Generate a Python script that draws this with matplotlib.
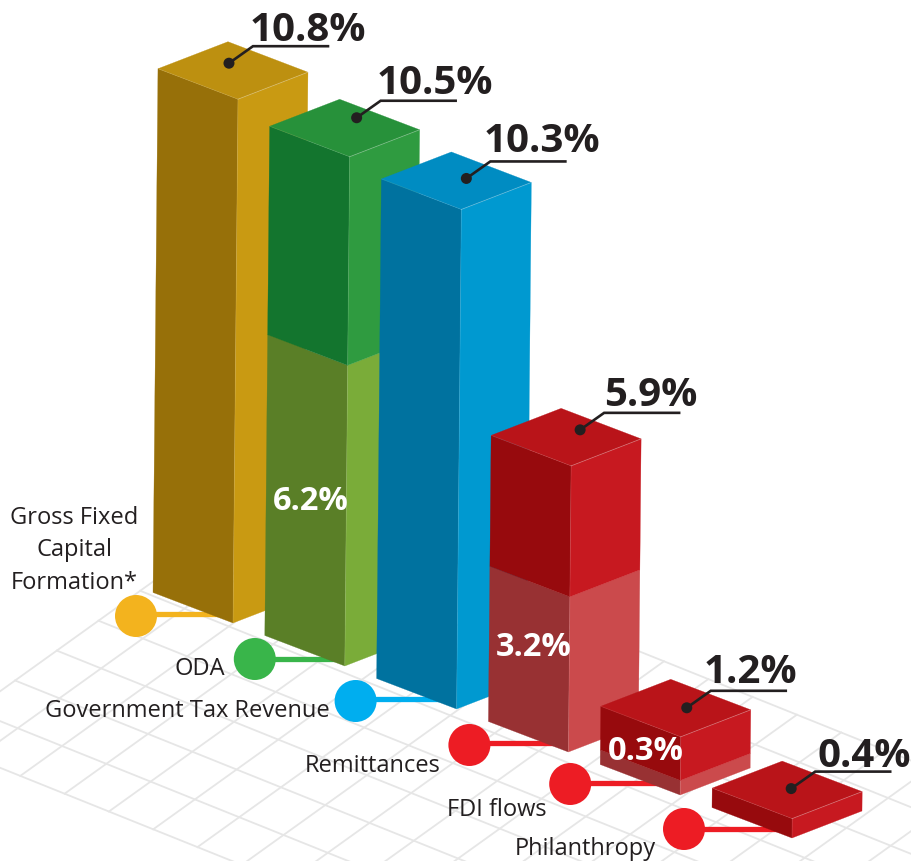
import matplotlib
matplotlib.use("Agg")
import matplotlib.pyplot as plt
from matplotlib.patches import Circle, Polygon

# data
categorias = ["Gross Fixed\nCapital\nFormation*", "ODA", "Government Tax Revenue",
              "Remittances", "FDI flows", "Philanthropy"]
valores = [10.8, 10.5, 10.3, 5.9, 1.2, 0.4]
valores_base = [0, 6.2, 0, 3.2, 0.3, 0]

# cores: esquerda, direita, topo, esquerda baixo, direita baixo, bolinha
cores = [
    ("#977009", "#C99A12", "#BD9010", None, None, "#F3B31E"),
    ("#13752E", "#2F9B40", "#27913A", "#5A7F27", "#7AAC39", "#39B54A"),
    ("#00729F", "#0099D0", "#008CC2", None, None, "#00AEEF"),
    ("#970A0D", "#C71920", "#B91419", "#983133", "#CB4A4C", "#ED1C24"),
    ("#970A0D", "#C71920", "#B91419", "#983133", "#CB4A4C", "#ED1C24"),
    ("#970A0D", "#C71920", "#B91419", None, None, "#ED1C24"),
]

# geometria em pixels
W, H = 911, 861
BASE_0 = (233, 623)
PASSO = (111.8, 43)
ESQ = (-80, -30.5)
DIR = (70, -27)
PX_POR_PONTO = 48.5
INCLINA = 0.0095

pontos_topo = [(-9, -36), (7, -39), (5, -31), (9, -36), (6, -29), (-1, -30)]
texto_offset = [(-3, -5), (-4, -7), (-7, -9), (0, -7), (-7, -8), (2, -5)]
bolinhas = [(-97, -7), (-90, -7), (-101, -8), (-99, -7), (-110, -11), (-108, -9)]
linha_dy = [-2, 0, -2, -2, -1, 0]

rotulos_pos = [(74, 524, "center"), (225, 675, "right"), (330, 717, "right"),
               (441, 772, "right"), (547, 816, "right"), (656, 855, "right")]
base_txt_pos = [None, (311, 501), None, (534, 648), (646, 752), None]

TEXTO = "#231F20"
FONTE = ["Open Sans", "DejaVu Sans"]

fig = plt.figure(figsize=(W / 100, H / 100), dpi=100)
ax = fig.add_axes([0, 0, 1, 1])
ax.set_xlim(0, W)
ax.set_ylim(H, 0)
ax.axis("off")


def sobe(p, altura):
    h = altura * PX_POR_PONTO
    return (p[0] + INCLINA * h, p[1] - h)


def soma(p, q):
    return (p[0] + q[0], p[1] + q[1])


def face(p, lado, h0, h1, cor, z):
    a = sobe(p, h0)
    b = sobe(soma(p, lado), h0)
    c = sobe(soma(p, lado), h1)
    d = sobe(p, h1)
    ax.add_patch(Polygon([a, b, c, d], closed=True, fc=cor, ec=cor, lw=0.2, zorder=z))


# grade do chao
GRADE_0 = (62, 746)
GRADE_U = (44.3, 17.8)
GRADE_V = (41.7, -29.9)


def grade(a, b):
    return (GRADE_0[0] + a * GRADE_U[0] + b * GRADE_V[0],
            GRADE_0[1] + a * GRADE_U[1] + b * GRADE_V[1])


for b in range(-1, 8):
    p, q = grade(-2, b), grade(17, b)
    ax.plot([p[0], q[0]], [p[1], q[1]], color="#E6E6E6", lw=1.3, zorder=1)
for a in range(-2, 18):
    p, q = grade(a, -1), grade(a, 7)
    ax.plot([p[0], q[0]], [p[1], q[1]], color="#E6E6E6", lw=1.3, zorder=1)

for i, valor in enumerate(valores):
    base = (BASE_0[0] + i * PASSO[0], BASE_0[1] + i * PASSO[1])
    esq, dir_, topo, esq_b, dir_b, bola = cores[i]
    z = 10 + i
    vb = valores_base[i]

    # linha e bolinha da legenda
    cx, cy = soma(base, bolinhas[i])
    ax.plot([cx, base[0] - 4], [cy + linha_dy[i]] * 2, color=bola, lw=3.8,
            solid_capstyle="butt", zorder=5)

    # faces
    if vb > 0:
        face(base, ESQ, 0, vb, esq_b, z)
        face(base, DIR, 0, vb, dir_b, z)
    face(base, ESQ, vb, valor, esq, z)
    face(base, DIR, vb, valor, dir_, z)

    f = sobe(base, valor)
    fl, fr = soma(f, ESQ), soma(f, DIR)
    fb = soma(fr, ESQ)
    ax.add_patch(Polygon([f, fr, fb, fl], closed=True, fc=topo, ec=topo, lw=0.2, zorder=z))

    # brilho nas arestas
    ax.plot([f[0], fr[0]], [f[1], fr[1]], color="white", alpha=0.3, lw=0.6, zorder=z)
    ax.plot([fl[0], f[0]], [fl[1], f[1]], color="white", alpha=0.1, lw=0.6, zorder=z)
    b0 = sobe(base, 0)
    ax.plot([b0[0], f[0]], [b0[1], f[1]], color="white", alpha=0.1, lw=0.6, zorder=z)

    ax.add_patch(Circle((cx, cy), 21, fc=bola, ec="none", zorder=30))

    # callout do valor
    dx, dy = soma(f, pontos_topo[i])
    ex, ey = dx + 24, dy - 17
    ax.plot([dx, ex, ex + 75], [dy, ey, ey], color=TEXTO, lw=1.9, solid_joinstyle="miter", zorder=31)
    ax.add_patch(Circle((dx, dy), 5.5, fc=TEXTO, ec="none", zorder=31))
    ax.text(ex + texto_offset[i][0], ey + texto_offset[i][1], f"{valor}%", family=FONTE,
            fontsize=29, fontweight="bold", color=TEXTO, ha="left", va="baseline", zorder=32)

    if vb > 0:
        tx, ty = base_txt_pos[i]
        ax.text(tx, ty, f"{vb}%", family=FONTE, fontsize=23.5, fontweight="bold",
                color="white", ha="center", va="center", zorder=32)

    x, y, ha = rotulos_pos[i]
    for n, parte in enumerate(categorias[i].split("\n")):
        ax.text(x, y + n * 32.5, parte, family=FONTE, fontsize=17, color=TEXTO,
                ha=ha, va="baseline", zorder=33)

fig.savefig("out.png", dpi=100)
